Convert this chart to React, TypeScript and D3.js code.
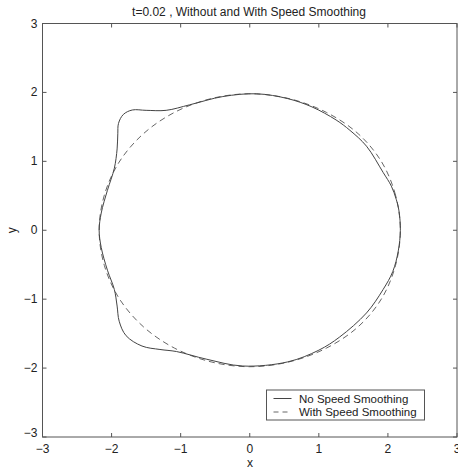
import React from "react";
import * as d3 from "d3";

// values
const xTicks = [-3, -2, -1, 0, 1, 2, 3];
const yTicks = [-3, -2, -1, 0, 1, 2, 3];

// "No Speed Smoothing" (solid) outline, counter-clockwise from the right
const noSmoothing: [number, number][] = [
  [2.18, 0.0], [2.16, 0.28], [2.12, 0.45], [2.05, 0.64], [1.93, 0.84],
  [1.69, 1.22], [1.45, 1.45], [1.25, 1.6], [0.9, 1.79], [0.55, 1.91],
  [0.1, 1.98], [-0.39, 1.94], [-0.87, 1.82], [-1.21, 1.74], [-1.5, 1.74],
  [-1.7, 1.745], [-1.83, 1.68], [-1.9, 1.55], [-1.91, 1.4], [-1.92, 1.18],
  [-1.96, 0.9], [-2.06, 0.58], [-2.15, 0.25], [-2.18, 0.0], [-2.15, -0.25],
  [-2.06, -0.58], [-1.96, -0.86], [-1.92, -1.1], [-1.89, -1.32], [-1.79, -1.53],
  [-1.56, -1.68], [-1.3, -1.73], [-1.06, -1.76], [-0.63, -1.87], [-0.1, -1.97],
  [0.55, -1.91], [1.0, -1.74], [1.3, -1.55], [1.69, -1.2], [1.93, -0.86],
  [2.07, -0.6], [2.15, -0.3],
];

// "With Speed Smoothing" (dashed) outline
const withSmoothing: [number, number][] = [
  [2.18, 0.0], [2.11, 0.51], [1.91, 0.99], [1.57, 1.4], [1.11, 1.71],
  [0.57, 1.91], [0.0, 1.98], [-0.56, 1.91], [-1.09, 1.71], [-1.54, 1.4],
  [-1.89, 0.99], [-2.105, 0.51], [-2.18, 0.0], [-2.105, -0.51], [-1.89, -0.99],
  [-1.54, -1.4], [-1.09, -1.71], [-0.56, -1.91], [0.0, -1.98], [0.57, -1.91],
  [1.11, -1.71], [1.57, -1.4], [1.91, -0.99], [2.11, -0.51],
];

const title = "t=0.02 , Without and With Speed Smoothing";
const legendLabels = ["No Speed Smoothing", "With Speed Smoothing"];

const W = 458;
const H = 471;
const margin = { top: 23.5, right: 1, bottom: 34, left: 42.5 };

const axisColor = "#555";
const textColor = "#222";
const font = "'Liberation Sans', Arial, sans-serif";

export default function App() {
  const x = d3.scaleLinear().domain([-3, 3]).range([margin.left, W - margin.right]);
  const y = d3.scaleLinear().domain([-3, 3]).range([H - margin.bottom, margin.top]);

  const line = d3
    .line<[number, number]>()
    .x(d => x(d[0]))
    .y(d => y(d[1]))
    .curve(d3.curveCatmullRomClosed.alpha(0.5));

  const x0 = x(-3), x1 = x(3), y0 = y(-3), y1 = y(3);
  const tl = 4;

  const lx = 266.5, ly = 390, lw = 158, lh = 30;
  const fmt = (t: number) => (t < 0 ? "\u2212" + Math.abs(t) : String(t));

  return (
    <svg
      width={W}
      height={H}
      style={{ position: "absolute", left: 0, top: 0, background: "#fff" }}
      fontFamily={font}
    >
      <text x={249} y={16} textAnchor="middle" fontSize={12} fill={textColor}>
        {title}
      </text>

      <path d={line(withSmoothing) || ""} fill="none" stroke="#666" strokeWidth={1} strokeDasharray="6,4" />
      <path d={line(noSmoothing) || ""} fill="none" stroke="#444" strokeWidth={1} />

      {/* frame */}
      <rect x={x0} y={y1} width={x1 - x0} height={y0 - y1} fill="none" stroke={axisColor} strokeWidth={1} />

      {xTicks.map(t => (
        <g key={"x" + t}>
          <line x1={x(t)} x2={x(t)} y1={y0} y2={y0 - tl} stroke={axisColor} />
          <line x1={x(t)} x2={x(t)} y1={y1} y2={y1 + tl} stroke={axisColor} />
          <text x={x(t)} y={y0 + 16} textAnchor="middle" fontSize={12} fill={textColor}>
            {fmt(t)}
          </text>
        </g>
      ))}
      {yTicks.map(t => (
        <g key={"y" + t}>
          <line x1={x0} x2={x0 + tl} y1={y(t)} y2={y(t)} stroke={axisColor} />
          <line x1={x1} x2={x1 - tl} y1={y(t)} y2={y(t)} stroke={axisColor} />
          <text x={x0 - 5} y={y(t) + (t === -3 ? 0 : 4)} textAnchor="end" fontSize={12} fill={textColor}>
            {fmt(t)}
          </text>
        </g>
      ))}

      <text x={250} y={467} textAnchor="middle" fontSize={12} fill={textColor}>x</text>
      <text transform={`translate(16,${y(0)}) rotate(-90)`} textAnchor="middle" fontSize={12} fill={textColor}>y</text>

      {/* legend */}
      <rect x={lx} y={ly} width={lw} height={lh} fill="#fff" stroke={axisColor} strokeWidth={1} />
      {legendLabels.map((lab, i) => (
        <g key={lab}>
          <line
            x1={lx + 7}
            x2={lx + 25}
            y1={ly + 8.5 + i * 13.5}
            y2={ly + 8.5 + i * 13.5}
            stroke={i === 0 ? "#444" : "#666"}
            strokeDasharray={i === 0 ? undefined : "5,4"}
          />
          <text x={lx + 32.5} y={ly + 12.5 + i * 13.5} fontSize={11.5} fill={textColor}>
            {lab}
          </text>
        </g>
      ))}
    </svg>
  );
}
